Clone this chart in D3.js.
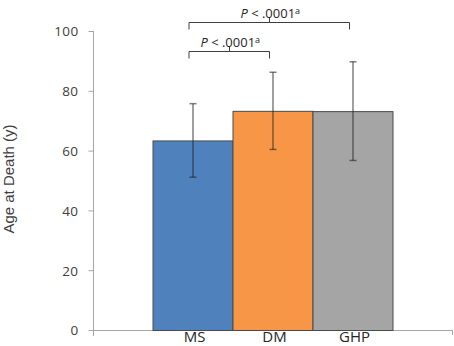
<!DOCTYPE html>
<html><head><meta charset="utf-8">
<script src="https://cdn.jsdelivr.net/npm/d3@7"></script>
<style>body{margin:0;background:#fff}svg{display:block}</style>
</head><body>
<svg id="c" width="454" height="346"></svg>
<script>
const categories = ["MS", "DM", "GHP"];
const means = [63.4, 73.3, 73.2];
const sds = [12.3, 12.9, 16.5];
const colors = ["#4f81bd", "#f79646", "#a5a5a5"];
const yTicks = [0, 20, 40, 60, 80, 100];
const yTitle = "Age at Death (y)";
const comparisons = [
  {from: "MS", to: "GHP", level: 103, label: "P", rest: " < .0001", sup: "a"},
  {from: "MS", to: "DM", level: 93.3, label: "P", rest: " < .0001", sup: "a"}
];

const svg = d3.select("#c");
const y = d3.scaleLinear().domain([0, 100]).range([330, 31]);
const x = d3.scaleBand().domain(categories).range([152.5, 392.5]).padding(0);
const axisColor = "#a6a6a6";

// y axis
const yAxis = d3.axisLeft(y).tickValues(yTicks).tickSize(5).tickPadding(10);
const gy = svg.append("g").attr("transform", "translate(93.5,0)").call(yAxis);
gy.select(".domain").attr("stroke", axisColor).attr("d", "M0,31V336");
gy.selectAll(".tick line").attr("stroke", axisColor);
gy.selectAll(".tick text").attr("fill", "#404040")
  .style("font-family", "'Open Sans', sans-serif").style("font-size", "13.5px")
  .style("letter-spacing", "0.4px").attr("dy", "0.36em");

// x axis baseline
svg.append("line").attr("x1", 93).attr("x2", 453).attr("y1", 330.5).attr("y2", 330.5).attr("stroke", axisColor);
svg.append("line").attr("x1", 452.5).attr("x2", 452.5).attr("y1", 330).attr("y2", 335).attr("stroke", axisColor);

// bars
svg.selectAll("rect.bar").data(categories).join("rect")
  .attr("class", "bar")
  .attr("x", d => x(d) + 0.5)
  .attr("width", x.bandwidth())
  .attr("y", (d, i) => y(means[i]) + 0.5)
  .attr("height", (d, i) => y(0) - y(means[i]))
  .attr("fill", (d, i) => colors[i])
  .attr("stroke", "#4a4a4a").attr("stroke-width", 1);

// error bars
const eb = svg.append("g").attr("stroke", "rgba(40,40,40,0.6)").attr("stroke-width", 1.5);
categories.forEach((c, i) => {
  const cx = x(c) + x.bandwidth() / 2 + 0.5;
  const top = y(means[i] + sds[i]), bot = y(means[i] - sds[i]);
  eb.append("line").attr("x1", cx).attr("x2", cx).attr("y1", top).attr("y2", bot);
  eb.append("line").attr("x1", cx - 3.5).attr("x2", cx + 3.5).attr("y1", top).attr("y2", top);
  eb.append("line").attr("x1", cx - 3.5).attr("x2", cx + 3.5).attr("y1", bot).attr("y2", bot);
});

// x labels
svg.selectAll("text.xl").data(categories).join("text")
  .attr("class", "xl")
  .attr("x", d => x(d) + x.bandwidth() / 2 + 2)
  .attr("y", 341.5)
  .attr("text-anchor", "middle")
  .attr("fill", "#262626")
  .style("font-family", "'Open Sans', sans-serif").style("font-size", "15px")
  .text(d => d);

// y title
svg.append("text")
  .attr("transform", "translate(14,179) rotate(-90)")
  .attr("text-anchor", "middle")
  .attr("fill", "#404040")
  .style("font-family", "'Liberation Sans', Arial, sans-serif").style("font-size", "15px")
  .text(yTitle);

// brackets
const bg = svg.append("g");
comparisons.forEach(cmp => {
  const x1 = x(cmp.from) + x.bandwidth() / 2 - 3.5;
  const x2 = x(cmp.to) + x.bandwidth() / 2 - 3.5 + 0.5;
  const ly = Math.round(y(cmp.level)) + 0.5;
  const mid = (x1 + x2) / 2;
  bg.append("path")
    .attr("d", `M${x1},${ly + 7}V${ly}H${x2}V${ly + 7}M${Math.round(mid) + 0.5},${ly}V${ly - 5}`)
    .attr("fill", "none").attr("stroke", "#404040").attr("stroke-width", 1);
  const t = bg.append("text")
    .attr("x", mid + 1).attr("y", ly - 5)
    .attr("text-anchor", "middle").attr("fill", "#262626")
    .style("font-family", "'Open Sans', sans-serif").style("font-size", "13px");
  t.append("tspan").style("font-style", "italic").text(cmp.label);
  t.append("tspan").text(cmp.rest);
  t.append("tspan").attr("dy", "-0.4em").style("font-size", "9px").text(cmp.sup);
});
</script>
</body></html>
